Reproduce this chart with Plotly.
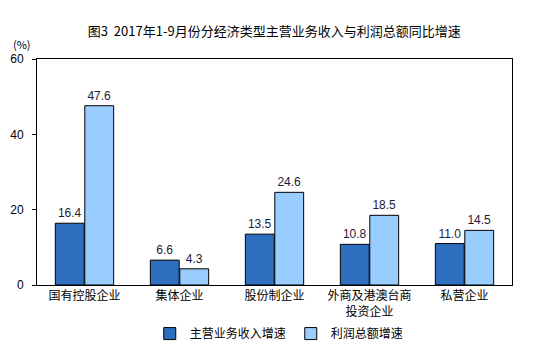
import plotly.graph_objects as go

categories = ["国有控股企业", "集体企业", "股份制企业", "外商及港澳台商<br>投资企业", "私营企业"]
revenue_growth = [16.4, 6.6, 13.5, 10.8, 11.0]
profit_growth = [47.6, 4.3, 24.6, 18.5, 14.5]
series_names = ["主营业务收入增速", "利润总额增速"]
y_ticks = [0, 20, 40, 60]

FONT = "Noto Sans CJK SC"

fig = go.Figure()
fig.add_trace(go.Bar(
    x=categories, y=revenue_growth, name=series_names[0],
    marker=dict(color="#2E6EBE", line=dict(color="#000000", width=1)),
    text=[f"{v:.1f}" for v in revenue_growth], textposition="outside",
    textfont=dict(size=12, color="#1a1a3a", family="Liberation Sans"),
    cliponaxis=False,
))
fig.add_trace(go.Bar(
    x=categories, y=profit_growth, name=series_names[1],
    marker=dict(color="#99CCFF", line=dict(color="#000000", width=1)),
    text=[f"{v:.1f}" for v in profit_growth], textposition="outside",
    textfont=dict(size=12, color="#1a1a3a", family="Liberation Sans"),
    cliponaxis=False,
))

fig.update_layout(
    width=554, height=349,
    margin=dict(l=37, r=42, t=59, b=64, autoexpand=False),
    paper_bgcolor="white", plot_bgcolor="white",
    barmode="group", bargap=0.38, bargroupgap=0.02,
    font=dict(family=FONT, size=12, color="#000000"),
    title=dict(text="图3  2017年1-9月份分经济类型主营业务收入与利润总额同比增速",
               x=0.495, xanchor="center", y=0.91, yanchor="middle",
               font=dict(size=13, family=FONT, color="#000000")),
    showlegend=True,
    legend=dict(orientation="h", x=0.51, xanchor="center", y=-0.215, yanchor="middle",
                font=dict(size=12, family=FONT), traceorder="normal",
                bgcolor="rgba(0,0,0,0)"),
    xaxis=dict(showline=True, linecolor="#000000", linewidth=1, mirror=True,
               ticks="", tickfont=dict(size=12, family=FONT), fixedrange=True,
               automargin=False),
    yaxis=dict(range=[0, 60], tickvals=y_ticks, showgrid=False, zeroline=False,
               showline=True, linecolor="#000000", linewidth=1, mirror=True,
               ticks="outside", ticklen=4, tickcolor="#000000",
               ticklabelstandoff=6, automargin=False,
               tickfont=dict(size=12, family="Liberation Sans")),
    annotations=[dict(text="(%)", xref="paper", yref="paper", x=-0.055, y=1.065,
                      xanchor="left", yanchor="middle", showarrow=False,
                      font=dict(size=11, family=FONT))],
)

fig.write_html("out.html")
